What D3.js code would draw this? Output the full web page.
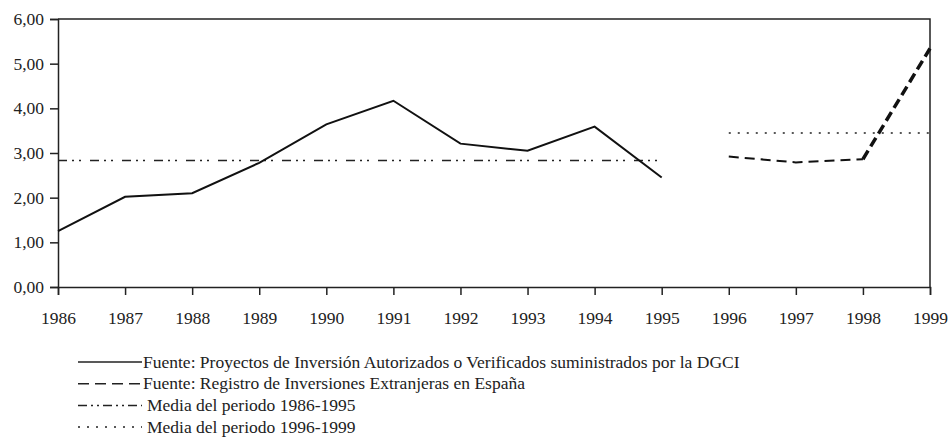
<!DOCTYPE html>
<html>
<head>
<meta charset="utf-8">
<script src="https://cdn.jsdelivr.net/npm/d3@7"></script>
<style>
  body { margin: 0; background: #fff; }
  svg text { font-family: "Liberation Serif", "Times New Roman", serif; }
  .axis path, .axis line { stroke: #222; stroke-width: 1.5; }
  .axis text { fill: #222; font-size: 17.5px; }
</style>
</head>
<body>
<script>
// data
const years = [1986, 1987, 1988, 1989, 1990, 1991, 1992, 1993, 1994, 1995, 1996, 1997, 1998, 1999];
const dgciYears = [1986, 1987, 1988, 1989, 1990, 1991, 1992, 1993, 1994, 1995];
const dgciValues = [1.25, 2.02, 2.10, 2.78, 3.64, 4.17, 3.21, 3.05, 3.59, 2.45];
const registroYears = [1996, 1997, 1998, 1999];
const registroValues = [2.92, 2.79, 2.86, 5.34];
const mean1 = 2.83;   // media 1986-1995
const mean2 = 3.45;   // media 1996-1999
const yTicks = [0, 1, 2, 3, 4, 5, 6];
const legendLabels = [
  "Fuente: Proyectos de Inversión Autorizados o Verificados suministrados por la DGCI",
  "Fuente: Registro de Inversiones Extranjeras en España",
  "Media del periodo 1986-1995",
  "Media del periodo 1996-1999"
];

const width = 951, height = 444;
const margin = { left: 58, right: 21, top: 19, bottom: 157 };

const svg = d3.select("body")
  .append("svg")
  .attr("width", width)
  .attr("height", height);

const x = d3.scaleLinear()
  .domain([years[0], years[years.length - 1]])
  .range([margin.left, width - margin.right]);

const y = d3.scaleLinear()
  .domain([0, 6])
  .range([height - margin.bottom, margin.top]);

const fmt = v => d3.format(".2f")(v).replace(".", ",");

// frame (top + right)
svg.append("path")
  .attr("d", `M${x.range()[0]},${y(6)} H${x.range()[1]} V${y(0)}`)
  .attr("fill", "none")
  .attr("stroke", "#222")
  .attr("stroke-width", 1.5);

const yAxis = svg.append("g")
  .attr("class", "axis")
  .attr("transform", `translate(${margin.left},0)`)
  .call(d3.axisLeft(y).tickValues(yTicks).tickFormat(fmt).tickSizeOuter(0).tickSize(8).tickPadding(6));
yAxis.attr("font-family", null);

const xAxis = svg.append("g")
  .attr("class", "axis")
  .attr("transform", `translate(0,${y(0)})`)
  .call(d3.axisBottom(x).tickValues(years).tickFormat(d3.format("d")).tickSizeOuter(0).tickSize(8).tickPadding(17));
xAxis.attr("font-family", null);

const line = d3.line().x(d => x(d[0])).y(d => y(d[1]));

// mean lines
svg.append("path")
  .attr("d", line([[dgciYears[0], mean1], [dgciYears[dgciYears.length - 1], mean1]]))
  .attr("fill", "none").attr("stroke", "#222").attr("stroke-width", 1.5)
  .attr("stroke-dasharray", "9,5,2,5,2,9");

svg.append("path")
  .attr("d", line([[registroYears[0], mean2], [registroYears[registroYears.length - 1], mean2]]))
  .attr("fill", "none").attr("stroke", "#222").attr("stroke-width", 1.5)
  .attr("stroke-dasharray", "2,7");

// DGCI series
svg.append("path")
  .attr("d", line(dgciYears.map((yr, i) => [yr, dgciValues[i]])))
  .attr("fill", "none").attr("stroke", "#111").attr("stroke-width", 2);

// Registro series: first three points thin, last segment bold
const reg = registroYears.map((yr, i) => [yr, registroValues[i]]);
svg.append("path")
  .attr("d", line(reg.slice(0, 3)))
  .attr("fill", "none").attr("stroke", "#111").attr("stroke-width", 2)
  .attr("stroke-dasharray", "10,6");
svg.append("path")
  .attr("d", line(reg.slice(2)))
  .attr("fill", "none").attr("stroke", "#111").attr("stroke-width", 3.5)
  .attr("stroke-dasharray", "10,5");

// legend
const legendStyles = [
  { dash: null, tx: 143 },
  { dash: "11,6", tx: 143 },
  { dash: "9,4,2,4,2,4", tx: 147 },
  { dash: "2,7", tx: 147 }
];
const legend = svg.append("g").attr("class", "legend");
legendLabels.forEach((label, i) => {
  const cy = 362 + i * 21.7;
  const st = legendStyles[i];
  legend.append("line")
    .attr("x1", 78).attr("x2", 142)
    .attr("y1", cy).attr("y2", cy)
    .attr("stroke", "#222").attr("stroke-width", 1.5)
    .attr("stroke-dasharray", st.dash);
  legend.append("text")
    .attr("x", st.tx).attr("y", cy + 5.5)
    .attr("font-size", 17.5)
    .attr("fill", "#222")
    .text(label);
});
</script>
</body>
</html>
